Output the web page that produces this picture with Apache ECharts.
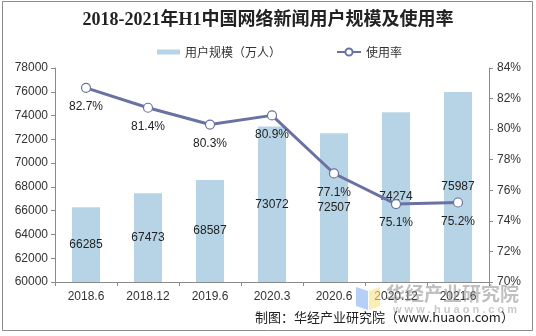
<!DOCTYPE html>
<html>
<head>
<meta charset="utf-8">
<script src="https://cdn.jsdelivr.net/npm/echarts@6/dist/echarts.min.js"></script>
<style>
  html, body { margin: 0; padding: 0; background: #fff; }
  #chart { width: 536px; height: 336px; }
</style>
</head>
<body>
<div id="chart"></div>
<script>
// Reporting periods
const periods = ['2018.6', '2018.12', '2019.6', '2020.3', '2020.6', '2020.12', '2021.6'];
// Online news users, 10k persons
const users = [66285, 67473, 68587, 73072, 72507, 74274, 75987];
// Usage rate, %
const usageRate = [82.7, 81.4, 80.3, 80.9, 77.1, 75.1, 75.2];

const barName = '用户规模（万人）';
const lineName = '使用率';
const barColor = '#b7d4e6';
const lineColor = '#6a72a3';
const textFont = '"Liberation Sans", Arial, "Noto Sans CJK SC", sans-serif';
const cjkFont = '"Noto Sans CJK SC", "Liberation Sans", sans-serif';

const chart = echarts.init(document.getElementById('chart'), null, { renderer: 'canvas' });

chart.setOption({
  backgroundColor: '#fff',
  animation: false,
  title: {
    text: '2018-2021年H1中国网络新闻用户规模及使用率',
    left: 'center',
    top: 6,
    textStyle: {
      fontFamily: '"Liberation Serif", "Noto Sans CJK SC", serif',
      fontWeight: 'bold',
      fontSize: 18,
      color: '#222'
    }
  },
  legend: [
    {
      data: [{ name: barName, icon: 'rect' }],
      left: 152,
      top: 41,
      itemWidth: 23,
      itemHeight: 5,
      textStyle: { fontFamily: cjkFont, fontSize: 12, color: '#333' }
    },
    {
      data: [{ name: lineName }],
      left: 331,
      top: 41,
      itemWidth: 24,
      itemHeight: 9,
      textStyle: { fontFamily: cjkFont, fontSize: 12, color: '#333' }
    }
  ],
  grid: { left: 55, right: 47, top: 68, bottom: 54 },
  xAxis: {
    type: 'category',
    data: periods,
    axisLine: { lineStyle: { color: '#8a8a8a' } },
    axisTick: { show: true, length: 4, lineStyle: { color: '#8a8a8a' } },
    axisLabel: { fontFamily: textFont, fontSize: 12, color: '#333', margin: 9 }
  },
  yAxis: [
    {
      type: 'value',
      min: 60000,
      max: 78000,
      interval: 2000,
      splitLine: { show: false },
      axisLine: { show: true, lineStyle: { color: '#8a8a8a' } },
      axisTick: { show: true, length: 4, lineStyle: { color: '#8a8a8a' } },
      axisLabel: {
        fontFamily: textFont, fontSize: 12, color: '#333', margin: 7,
        formatter: v => String(v)
      }
    },
    {
      type: 'value',
      min: 70,
      max: 84,
      interval: 2,
      position: 'right',
      splitLine: { show: false },
      axisLine: { show: true, lineStyle: { color: '#8a8a8a' } },
      axisTick: { show: true, length: 4, lineStyle: { color: '#8a8a8a' } },
      axisLabel: { fontFamily: textFont, fontSize: 12, color: '#333', margin: 8, formatter: '{value}%' }
    }
  ],
  series: [
    {
      name: barName,
      type: 'bar',
      data: users,
      barWidth: 28,
      itemStyle: { color: barColor },
      label: {
        show: true,
        position: 'inside',
        fontFamily: textFont,
        fontSize: 12,
        color: '#222',
        formatter: p => String(p.value)
      },
      z: 2
    },
    {
      name: lineName,
      type: 'line',
      yAxisIndex: 1,
      data: usageRate,
      symbol: 'circle',
      symbolSize: 9,
      lineStyle: { color: lineColor, width: 3 },
      itemStyle: { color: '#fff', borderColor: lineColor, borderWidth: 1.2 },
      label: {
        show: true,
        position: 'bottom',
        distance: 8,
        fontFamily: textFont,
        fontSize: 12,
        color: '#222',
        formatter: p => p.value.toFixed(1) + '%'
      },
      z: 3
    }
  ],
  graphic: [
    {
      type: 'rect',
      shape: { x: 2.5, y: 1.5, width: 530, height: 329 },
      style: { fill: 'none', stroke: '#8c8c8c', lineWidth: 1 },
      silent: true
    },
    // watermark emblem
    {
      type: 'polygon',
      shape: { points: [[356, 287], [368, 291], [368, 310], [356, 306]] },
      style: { fill: 'rgba(120,170,240,0.55)' },
      silent: true, z: 10
    },
    {
      type: 'polygon',
      shape: { points: [[369, 291], [380, 287], [380, 306], [369, 310]] },
      style: { fill: 'rgba(250,225,130,0.6)' },
      silent: true, z: 10
    },
    {
      type: 'text',
      x: 386, y: 284,
      style: {
        text: '华经产业研究院',
        font: 'bold 19px "Noto Sans CJK SC", sans-serif',
        fill: 'rgba(140,140,140,0.55)'
      },
      silent: true, z: 10
    },
    {
      type: 'text',
      x: 393, y: 304,
      style: {
        text: 'w w w . h u a o n . c o m',
        font: 'bold 11px "Liberation Sans", sans-serif',
        fill: 'rgba(150,150,150,0.5)'
      },
      silent: true, z: 10
    },
    {
      type: 'text',
      x: 255, y: 311,
      style: {
        text: '制图：华经产业研究院（www.huaon.com）',
        font: '13px "Noto Sans CJK SC", "Liberation Sans", sans-serif',
        fill: '#222'
      },
      silent: true, z: 11
    }
  ]
});
</script>
</body>
</html>
